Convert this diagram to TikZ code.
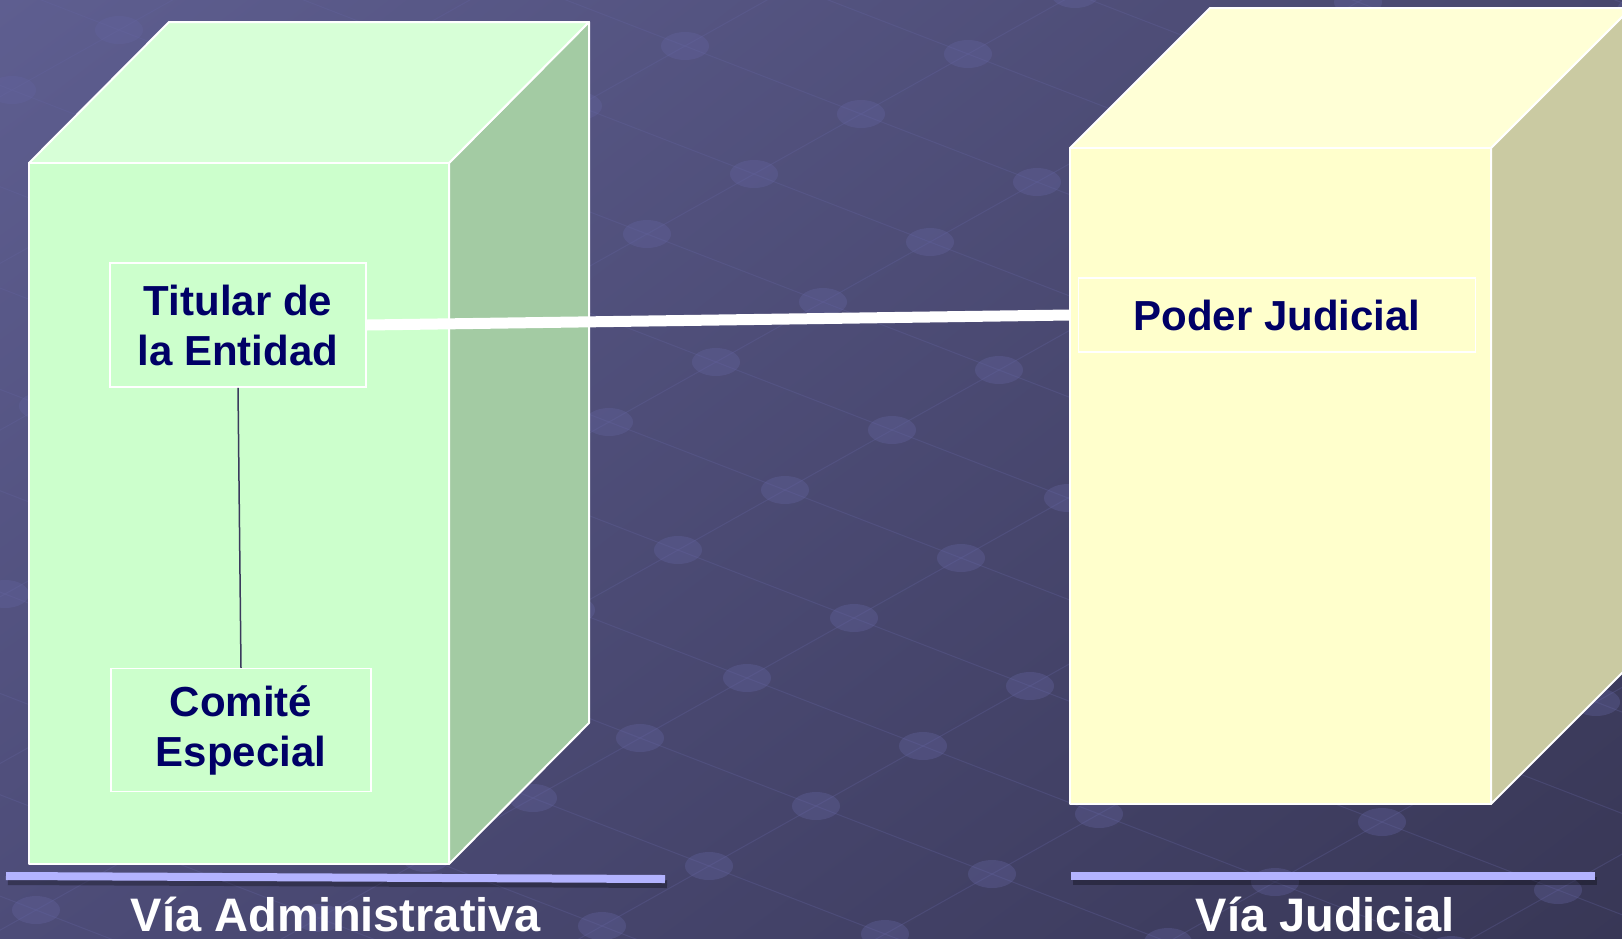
\documentclass[tikz,border=0pt]{standalone}
\usepackage{fontspec}
\setmainfont{Liberation Sans}
\usetikzlibrary{shadings}
\definecolor{fondoA}{HTML}{5E5E90}
\definecolor{fondoB}{HTML}{48476E}
\definecolor{fondoC}{HTML}{4D4C78}
\definecolor{fondoD}{HTML}{383756}
\definecolor{trama}{HTML}{6464A0}
\definecolor{verdeF}{HTML}{CCFFCC}
\definecolor{verdeT}{HTML}{D7FFD7}
\definecolor{verdeL}{HTML}{A3CBA3}
\definecolor{amarF}{HTML}{FFFFCC}
\definecolor{amarT}{HTML}{FFFFD6}
\definecolor{amarL}{HTML}{CACAA2}
\definecolor{azulT}{HTML}{000066}
\definecolor{lila}{HTML}{B3B3FF}
\definecolor{enlace}{HTML}{3A3A5C}
\begin{document}
\begin{tikzpicture}[x=1pt,y=-1pt,
  caja/.style={draw=white,line width=1.5pt,align=center,inner sep=0pt,text=azulT,font=\fontsize{42}{50}\selectfont\bfseries},
  cara/.style={draw=white,line width=2pt,line join=round},
  via/.style={anchor=base,text=white,font=\fontsize{47}{56}\selectfont\bfseries},
  barra/.style={line width=8pt,color=lila}]
\useasboundingbox (0,0) rectangle (1622,938);
\clip (0,0) rectangle (1622,938);
\shade[upper left=fondoA,upper right=fondoB,lower left=fondoC,lower right=fondoD] (0,0) rectangle (1622,938);
% trama del fondo
\foreach \j in {-9,...,9}\draw[trama,line width=1pt,opacity=.3] ({678-1760+107*\j},{550-680-60*\j}) -- ({678+1760+107*\j},{550+680-60*\j});
\foreach \i in {-9,...,9}\draw[trama,line width=1pt,opacity=.3] ({678+176*\i-1070},{550+68*\i+600}) -- ({678+176*\i+1070},{550+68*\i-600});
\foreach \i in {-9,...,9}\foreach \j in {-9,...,9}\fill[trama,opacity=.35] ({678+176*\i+107*\j},{550+68*\i-60*\j}) ellipse [x radius=24,y radius=14];
% via administrativa
\path[cara,fill=verdeL] (449,163) -- (589,22) -- (589,723) -- (449,864) -- cycle;
\path[cara,fill=verdeT] (29,163) -- (169,22) -- (589,22) -- (449,163) -- cycle;
\path[cara,fill=verdeF] (29,163) rectangle (449,864);
% via judicial
\path[cara,fill=amarL] (1491,148) -- (1631,8) -- (1631,664) -- (1491,804) -- cycle;
\path[cara,fill=amarT] (1070,148) -- (1210,8) -- (1631,8) -- (1491,148) -- cycle;
\path[cara,fill=amarF] (1070,148) rectangle (1491,804);
\coordinate (jud) at (1070,148);
\node[caja,minimum width=256pt,minimum height=124pt] (tit) at (238,325) {Titular de\\la Entidad};
\node[caja,minimum width=260pt,minimum height=123pt] (com) at (241,730) {Comité\\Especial};
\node[caja,minimum width=397pt,minimum height=74pt] (pod) at (1277,315) {Poder Judicial};
\draw[white,line width=11pt] (tit.east) -- (pod.west -| jud);
\draw[enlace,line width=1.5pt] (tit.south) -- (com.north);
% barras y rotulos
\draw[line width=8pt,black,opacity=.3] (8,881) -- (667,884);
\draw[line width=8pt,black,opacity=.3] (1073,881) -- (1597,881);
\draw[barra] (6,876) -- (665,879);
\draw[barra] (1071,876) -- (1595,876);
\node[via] (viaA) at (336,931) {Vía Administrativa};
\node[via] (viaJ) at (1325,931) {Vía Judicial};
\end{tikzpicture}
\end{document}
